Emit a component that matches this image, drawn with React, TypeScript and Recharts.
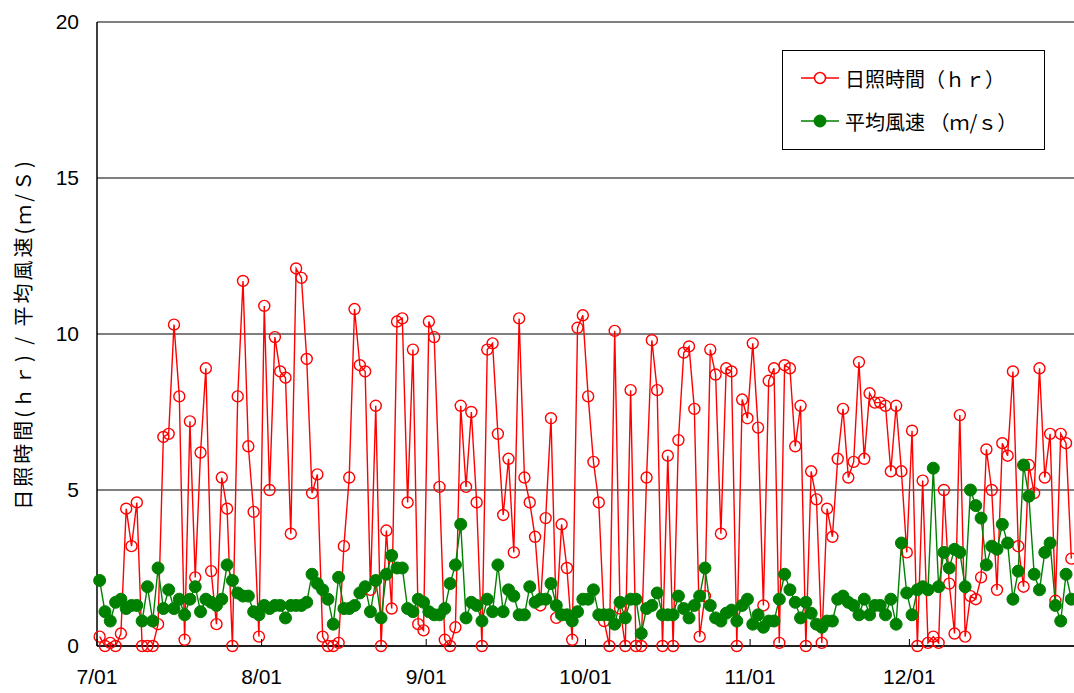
import { CartesianGrid, Line, LineChart, XAxis, YAxis } from "recharts";

// daily values, 7/01 .. 12/31
const SUNSHINE = [
  0.3, 0, 0.1, 0, 0.4, 4.4, 3.2, 4.6, 0, 0, 0, 0.7, 6.7, 6.8, 10.3, 8.0, 0.2,
  7.2, 2.2, 6.2, 8.9, 2.4, 0.7, 5.4, 4.4, 0, 8.0, 11.7, 6.4, 4.3, 0.3, 10.9, 5.0,
  9.9, 8.8, 8.6, 3.6, 12.1, 11.8, 9.2, 4.9, 5.5, 0.3, 0, 0, 0.1, 3.2, 5.4, 10.8,
  9.0, 8.8, 1.8, 7.7, 0, 3.7, 1.2, 10.4, 10.5, 4.6, 9.5, 0.7, 0.5, 10.4, 9.9,
  5.1, 0.2, 0, 0.6, 7.7, 5.1, 7.5, 4.6, 0, 9.5, 9.7, 6.8, 4.2, 6.0, 3.0, 10.5, 5.4,
  4.6, 3.5, 1.3, 4.1, 7.3, 0.9, 3.9, 2.5, 0.2, 10.2, 10.6, 8.0, 5.9, 4.6, 0.8, 0,
  10.1, 1.2, 0, 8.2, 0, 0, 5.4, 9.8, 8.2, 0, 6.1, 0, 6.6, 9.4, 9.6, 7.6,
  0.3, 1.6, 9.5, 8.7, 3.6, 8.9, 8.8, 0, 7.9, 7.3, 9.7, 7.0, 1.3, 8.5, 8.9,
  0.1, 9.0, 8.9, 6.4, 7.7, 0, 5.6, 4.7, 0.1, 4.4, 3.5, 6.0, 7.6, 5.4, 5.9, 9.1, 6.0,
  8.1, 7.8, 7.8, 7.7, 5.6, 7.7, 5.6, 3.0, 6.9, 0, 5.3, 0.1, 0.3, 0.1, 5.0, 2.0,
  0.4, 7.4, 0.3, 1.6, 1.5, 2.2, 6.3, 5.0, 1.8, 6.5, 6.1, 8.8, 3.2, 1.9, 5.8, 4.9,
  8.9, 5.4, 6.8, 1.45, 6.8, 6.5, 2.8,
];

const WIND = [
  2.1, 1.1, 0.8, 1.4, 1.5, 1.2, 1.3, 1.3, 0.8, 1.9, 0.8, 2.5, 1.2, 1.8, 1.2, 1.5, 1.0,
  1.5, 1.9, 1.1, 1.5, 1.4, 1.3, 1.5, 2.6, 2.1, 1.7, 1.6, 1.6, 1.1, 1.0, 1.3, 1.2,
  1.3, 1.3, 0.9, 1.3, 1.3, 1.3, 1.4, 2.3, 2.0, 1.8, 1.5, 0.7, 2.2, 1.2, 1.2, 1.3,
  1.7, 1.9, 1.1, 2.1, 0.9, 2.3, 2.9, 2.5, 2.5, 1.2, 1.1, 1.5, 1.4, 1.1, 1.0,
  1.0, 1.2, 2.0, 2.6, 3.9, 0.9, 1.4, 1.3, 0.8, 1.5, 1.1, 2.6, 1.1, 1.8, 1.6, 1.0, 1.0,
  1.9, 1.4, 1.5, 1.5, 2.0, 1.3, 1.0, 1.0, 0.8, 1.1, 1.5, 1.5, 1.8, 1.0, 1.0, 1.0,
  0.7, 1.4, 0.9, 1.5, 1.5, 0.4, 1.2, 1.3, 1.7, 1.0, 1.0, 1.0, 1.6, 1.2, 0.9, 1.3,
  1.6, 2.5, 1.3, 0.9, 0.8, 1.05, 1.15, 0.8, 1.3, 1.5, 0.7, 1.0, 0.6, 0.8, 0.8,
  1.5, 2.3, 1.8, 1.4, 0.9, 1.4, 1.05, 0.7, 0.6, 0.8, 0.8, 1.5, 1.6, 1.4, 1.3, 1.0, 1.5,
  1.0, 1.3, 1.3, 1.0, 1.5, 0.7, 3.3, 1.7, 1.0, 1.8, 1.9, 1.8, 5.7, 1.9, 3.0, 2.5,
  3.1, 3.0, 1.9, 5.0, 4.5, 4.1, 2.6, 3.2, 3.1, 3.9, 3.3, 1.5, 2.4, 5.8, 4.8, 2.3,
  1.8, 3.0, 3.3, 1.3, 0.8, 2.3, 1.5,
];

const MONTH_STARTS = [0, 31, 62, 92, 123, 153];
const MONTH_LABELS = ["7/01", "8/01", "9/01", "10/01", "11/01", "12/01"];
const Y_TICKS = [0, 5, 10, 15, 20];

const data = SUNSHINE.map((v, i) => ({ day: i + 0.5, sun: v, wind: WIND[i] }));

const FONT = "'Liberation Sans', Arial, 'Noto Sans CJK JP', sans-serif";
const JP_FONT = "'Noto Sans CJK JP', 'Liberation Sans', sans-serif";

function MonthTick(props: any) {
  const { x, y, payload } = props;
  const idx = MONTH_STARTS.indexOf(payload.value);
  return (
    <g>
      <line x1={x} y1={y} x2={x} y2={y - 7} stroke="#000" />
      <text x={x} y={y + 38} textAnchor="middle" fontSize={21} fontFamily={FONT} fill="#000">
        {MONTH_LABELS[idx]}
      </text>
    </g>
  );
}

function YLabel() {
  return (
    <text
      x={22}
      y={334}
      transform="rotate(-90, 22, 334)"
      textAnchor="middle"
      dominantBaseline="central"
      fontSize={20}
      letterSpacing={3}
      fontFamily={JP_FONT}
      fill="#000"
    >
      日照時間(ｈｒ) / 平均風速(ｍ/Ｓ)
    </text>
  );
}

function LegendBox() {
  return (
    <div
      style={{
        position: "absolute",
        left: 782,
        top: 50,
        width: 261,
        height: 98,
        border: "1px solid #000",
        background: "#fff",
      }}
    >
      <svg width={261} height={98} style={{ position: "absolute", left: 0, top: 0 }}>
        <line x1={18} y1={27} x2={56} y2={27} stroke="#ff0000" strokeWidth={1.5} />
        <circle cx={37} cy={27} r={5.5} fill="#fff" stroke="#ff0000" strokeWidth={1.5} />
        <text x={62} y={27} dominantBaseline="central" fontSize={20} fontFamily={JP_FONT}>
          日照時間（ｈｒ）
        </text>
        <line x1={18} y1={70} x2={56} y2={70} stroke="#008000" strokeWidth={1.5} />
        <circle cx={37} cy={70} r={6} fill="#008000" stroke="#008000" />
        <text x={62} y={70} dominantBaseline="central" fontSize={20} fontFamily={JP_FONT}>
          平均風速 （ｍ/ｓ）
        </text>
      </svg>
    </div>
  );
}

export default function App() {
  return (
    <div style={{ position: "absolute", left: 0, top: 0, width: 1074, height: 693, background: "#fff" }}>
      <LineChart
        width={1074}
        height={693}
        data={data}
        margin={{ top: 22, right: 0, bottom: 7, left: 0 }}
      >
        <CartesianGrid horizontal vertical={false} stroke="#000" strokeWidth={1} />
        <XAxis
          dataKey="day"
          type="number"
          domain={[0, 184]}
          ticks={MONTH_STARTS}
          interval={0}
          height={40}
          tickSize={0}
          tickMargin={0}
          tickLine={false}
          axisLine={{ stroke: "#000", strokeWidth: 1.5 }}
          tick={<MonthTick />}
        />
        <YAxis
          type="number"
          domain={[0, 20]}
          ticks={Y_TICKS}
          interval={0}
          width={97}
          tickLine={false}
          tickMargin={12}
          axisLine={{ stroke: "#000", strokeWidth: 1.5 }}
          tick={{ fontSize: 21, fill: "#000", fontFamily: FONT }}
          label={<YLabel />}
        />
        <Line
          type="linear"
          dataKey="sun"
          stroke="#ff0000"
          strokeWidth={1.4}
          dot={{ r: 5.5, stroke: "#ff0000", strokeWidth: 1.4, fill: "none" }}
          isAnimationActive={false}
        />
        <Line
          type="linear"
          dataKey="wind"
          stroke="#008000"
          strokeWidth={1.4}
          dot={{ r: 6, stroke: "#008000", strokeWidth: 1, fill: "#008000" }}
          isAnimationActive={false}
        />
      </LineChart>
      <LegendBox />
    </div>
  );
}
